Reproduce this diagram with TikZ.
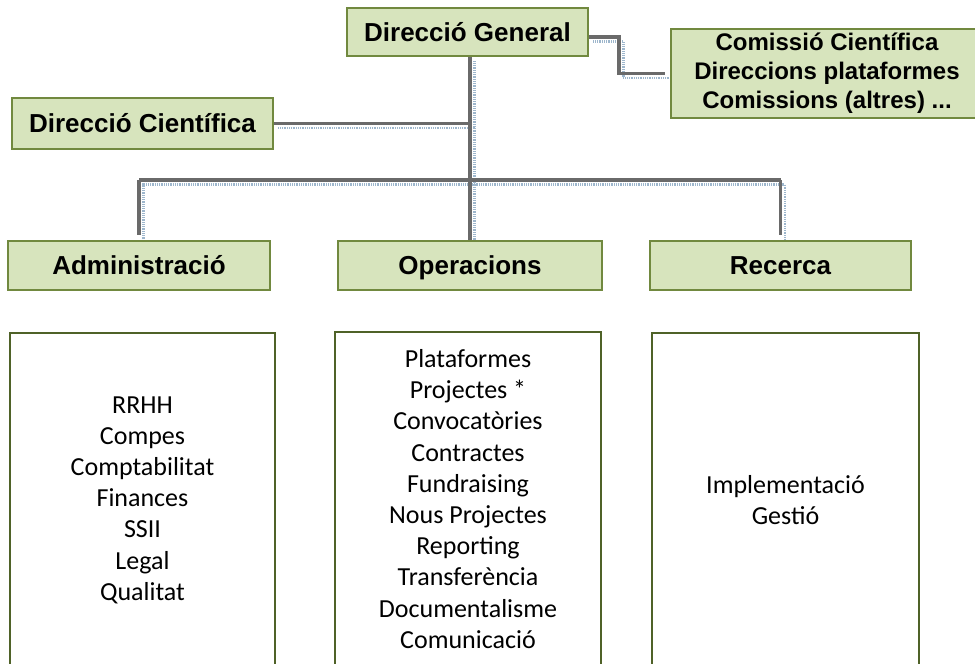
\documentclass[tikz,border=0pt]{standalone}
\usepackage{fontspec}
\usetikzlibrary{backgrounds}
\setmainfont{Carlito}
\newfontfamily\hdrfont{Liberation Sans}
\definecolor{hfill}{HTML}{D7E4BD}
\definecolor{hline}{HTML}{71893F}
\definecolor{lline}{HTML}{4F6228}
\definecolor{cgray}{HTML}{6A6A6A}
\definecolor{cblue}{HTML}{9DB6CC}
\tikzset{
  hbox/.style={draw=hline, line width=1.5pt, fill=hfill, inner sep=0pt,
    text height=20pt, text depth=1.5pt,
    font=\hdrfont\bfseries\fontsize{26}{31}\selectfont},
  lbox/.style={draw=lline, line width=2.5pt, fill=white, inner sep=0pt, align=center,
    minimum height=334pt, font=\fontsize{26}{31.2}\selectfont},
  gconn/.style={draw=cgray, line width=3.5pt},
  dconn/.style={draw=cblue, line width=2.5pt, dash pattern=on 1pt off 0.8pt,
    transform canvas={xshift=4.5pt, yshift=-4.5pt}},
}
\begin{document}
\begin{tikzpicture}[x=1pt,y=-1pt]
\useasboundingbox (0,0) rectangle (975,664);
% header boxes
\node[hbox, minimum width=241pt, minimum height=48pt] (dg) at (467.5,32) {Direcció General};
\node[draw=hline, line width=1.5pt, fill=hfill, inner sep=0pt, align=center,
  minimum width=312pt, minimum height=89pt,
  font=\hdrfont\bfseries\fontsize{24}{29}\selectfont] (cm) at (827,73.5)
  {Comissió Científica\\Direccions plataformes\\Comissions (altres) ...};
\node[hbox, minimum width=261pt, minimum height=51pt] (dc) at (142.5,123.5) {Direcció Científica};
\node[hbox, minimum width=262pt, minimum height=49pt] (adm) at (139,265.5) {Administració};
\node[hbox, minimum width=264pt, minimum height=49pt] (ops) at (470,265.5) {Operacions};
\node[hbox, minimum width=261pt, minimum height=49pt] (rec) at (780.5,265.5) {Recerca};
% list boxes
\node[lbox, minimum width=265pt] (admL) at (142.5,500) {RRHH\\Compes\\Comptabilitat\\Finances\\SSII\\Legal\\Qualitat};
\node[lbox, minimum width=266pt] (opsL) at (468,499) {Plataformes\\Projectes *\\Convocatòries\\Contractes\\Fundraising\\Nous Projectes\\Reporting\\Transferència\\Documentalisme\\Comunicació};
\node[lbox, minimum width=267pt] (recL) at (785.5,500) {Implementació\\Gestió};
\coordinate (bar) at (0,180);
% connectors behind the boxes
\begin{scope}[on background layer]
  % dotted shadows
  \draw[dconn] (ops.north |- dg.south) -- (ops.north);
  \draw[dconn] (adm.north) -- (adm.north |- bar) -- (rec.north |- bar) -- (rec.north);
  \draw[dconn] (dc.east) -- (dc.east -| ops.north);
  \draw[dconn] ([yshift=-5pt]dg.east) -- ++(30,0) |- (cm.west);
  % gray lines
  \draw[gconn] (ops.north |- dg.south) -- (ops.north);
  \draw[gconn] (adm.north |- bar) -- (rec.north |- bar);
  \draw[gconn, shorten >=5pt] (adm.north |- bar) -- (adm.north);
  \draw[gconn, shorten >=5pt] (rec.north |- bar) -- (rec.north);
  \draw[gconn] (dc.east) -- (dc.east -| ops.north);
  \draw[gconn, shorten >=5pt] ([yshift=-5pt]dg.east) -- ++(30,0) |- (cm.west);
\end{scope}
\end{tikzpicture}
\end{document}
